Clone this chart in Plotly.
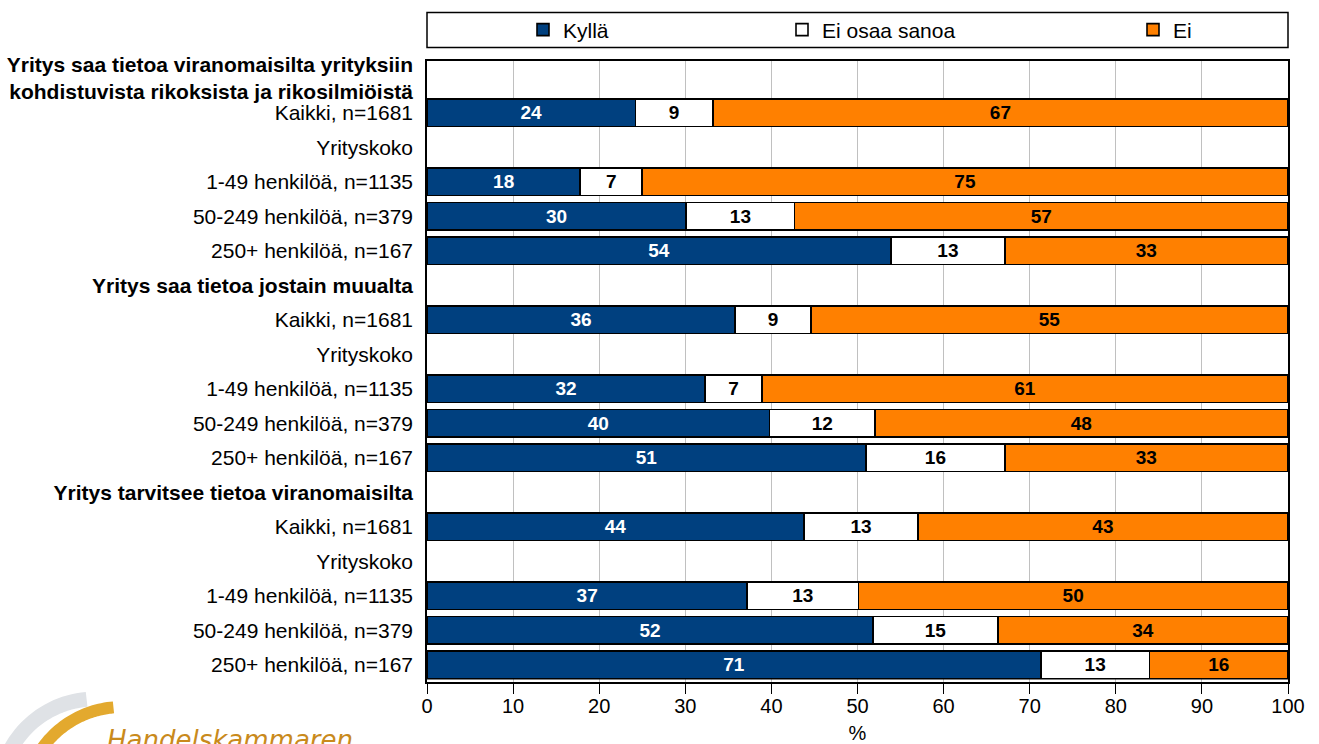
import numpy as np
import plotly.graph_objects as go

# ---------------- data ----------------
row_labels = [
    "<b>Yritys saa tietoa viranomaisilta yrityksiin<br>kohdistuvista rikoksista ja rikosilmiöistä</b>",
    "Kaikki, n=1681", "Yrityskoko", "1-49 henkilöä, n=1135", "50-249 henkilöä, n=379", "250+ henkilöä, n=167",
    "<b>Yritys saa tietoa jostain muualta</b>",
    "Kaikki, n=1681", "Yrityskoko", "1-49 henkilöä, n=1135", "50-249 henkilöä, n=379", "250+ henkilöä, n=167",
    "<b>Yritys tarvitsee tietoa viranomaisilta</b>",
    "Kaikki, n=1681", "Yrityskoko", "1-49 henkilöä, n=1135", "50-249 henkilöä, n=379", "250+ henkilöä, n=167",
]
series_names = ["Kyllä", "Ei osaa sanoa", "Ei"]

kylla = [None, 24.2, None, 17.8, 30.1, 53.9, None, 35.8, None, 32.3, 39.8, 51.0, None, 43.8, None, 37.2, 51.8, 71.3]
ei_osaa = [None, 9.0, None, 7.2, 12.6, 13.2, None, 8.8, None, 6.6, 12.2, 16.1, None, 13.2, None, 12.9, 14.5, 12.6]
ei = [None, 66.8, None, 75.0, 57.3, 32.9, None, 55.4, None, 61.1, 48.0, 32.9, None, 43.0, None, 49.9, 33.7, 16.1]

kylla_lbl = [None, 24, None, 18, 30, 54, None, 36, None, 32, 40, 51, None, 44, None, 37, 52, 71]
ei_osaa_lbl = [None, 9, None, 7, 13, 13, None, 9, None, 7, 12, 16, None, 13, None, 13, 15, 13]
ei_lbl = [None, 67, None, 75, 57, 33, None, 55, None, 61, 48, 33, None, 43, None, 50, 34, 16]

x_ticks = [0, 10, 20, 30, 40, 50, 60, 70, 80, 90, 100]
x_title = "%"

# ---------------- style ----------------
W, H = 1319, 744
L, R, T, B = 427, 31, 61, 62
PW, PH = W - L - R, H - T - B
FONT = "Arial, Liberation Sans, sans-serif"
colors = ["#00407f", "#ffffff", "#ff8000"]
text_colors = ["#ffffff", "#000000", "#000000"]


def px(xp):
    return (xp - L) / PW


def py(yp):
    return (H - B - yp) / PH


ypos = list(range(len(row_labels)))
fig = go.Figure()
series_vals = [kylla, ei_osaa, ei]
series_lbls = [kylla_lbl, ei_osaa_lbl, ei_lbl]
legend_ids = ["legend", "legend2", "legend3"]
for i, name in enumerate(series_names):
    fig.add_trace(go.Bar(
        name=name, orientation="h", y=ypos, x=series_vals[i],
        text=[("" if v is None else str(v)) for v in series_lbls[i]],
        textposition="inside", insidetextanchor="middle",
        textfont=dict(family=FONT, size=19, color=text_colors[i], weight="bold"),
        marker=dict(color=colors[i], line=dict(color="#000000", width=1.6)),
        width=0.8, legend=legend_ids[i], hoverinfo="skip", showlegend=True,
        constraintext="none",
    ))

fig.update_layout(
    barmode="stack",
    width=W, height=H,
    margin=dict(l=L, r=R, t=T, b=B, autoexpand=False),
    paper_bgcolor="white", plot_bgcolor="white",
    font=dict(family=FONT, size=21, color="#000000"),
    showlegend=True,
    bargap=0.2,
)

legend_text_x = [563, 822, 1173]
for i, lid in enumerate(legend_ids):
    fig.update_layout({lid: dict(
        x=px(legend_text_x[i] - 40), xanchor="left",
        y=py(30), yanchor="middle",
        orientation="h", bgcolor="rgba(0,0,0,0)",
        font=dict(family=FONT, size=21, color="#000000"),
        itemclick=False, itemdoubleclick=False, visible=True,
    )})

fig.update_xaxes(
    range=[0, 100], tickvals=x_ticks, ticktext=[str(t) for t in x_ticks],
    showgrid=True, gridcolor="#c0c0c0", gridwidth=1,
    showline=True, linecolor="#000000", linewidth=1.5, mirror=True,
    ticks="outside", ticklen=10, tickcolor="#000000", tickwidth=1,
    ticklabelstandoff=-5,
    tickfont=dict(family=FONT, size=20),
    title=dict(text=x_title, font=dict(family=FONT, size=20), standoff=13),
    zeroline=False, fixedrange=True,
)
fig.update_yaxes(
    range=[len(row_labels) - 0.5, -0.5], tickvals=ypos, ticktext=row_labels,
    showgrid=False, showline=True, linecolor="#000000", linewidth=1.5, mirror=True,
    ticks="", ticklabelstandoff=8, tickfont=dict(family=FONT, size=21),
    zeroline=False, fixedrange=True,
)

shapes = []
# legend frame
shapes.append(dict(type="rect", xref="paper", yref="paper",
                   x0=0, x1=1, y0=py(47.5), y1=py(12.5),
                   line=dict(color="#000000", width=1.5), fillcolor="rgba(0,0,0,0)"))
# double line at the bottom of the plot area
shapes.append(dict(type="line", xref="paper", yref="paper",
                   x0=0, x1=1, y0=py(679), y1=py(679),
                   line=dict(color="#000000", width=1.2)))


# logo arcs (decoration)
def arc_path(cx, cy, r, a0, a1, n=40):
    ang = np.linspace(np.radians(a0), np.radians(a1), n)
    pts = [(px(cx + r * np.cos(a)), py(cy - r * np.sin(a))) for a in ang]
    return "M " + " L ".join(f"{x:.5f},{y:.5f}" for x, y in pts)


shapes.append(dict(type="path", xref="paper", yref="paper",
                   path=arc_path(95, 795, 96, 95, 200),
                   line=dict(color="#dfe2e6", width=15)))
shapes.append(dict(type="path", xref="paper", yref="paper",
                   path=arc_path(122, 805, 98, 95, 160),
                   line=dict(color="#e3a92e", width=12)))
fig.update_layout(shapes=shapes)

fig.add_annotation(
    text="Handelskammaren", xref="paper", yref="paper",
    x=px(105), y=py(723), xanchor="left", yanchor="top", showarrow=False,
    font=dict(family="DejaVu Sans", size=26, color="#c98a1c", style="italic"),
)

fig.write_html(
    "out.html",
    config={"displayModeBar": False},
    post_script="document.body.style.margin='0';document.body.style.padding='0';",
)
